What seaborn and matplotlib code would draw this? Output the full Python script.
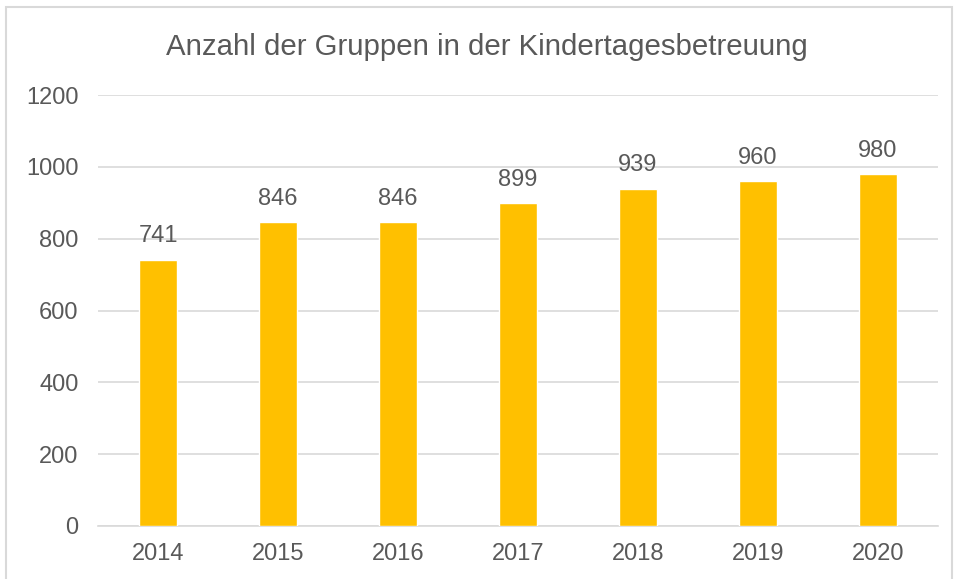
import matplotlib
matplotlib.use("Agg")
import matplotlib.pyplot as plt
import seaborn as sns
import pandas as pd
from matplotlib.patches import Rectangle

years = ["2014", "2015", "2016", "2017", "2018", "2019", "2020"]
values = [741, 846, 846, 899, 939, 960, 980]
title = "Anzahl der Gruppen in der Kindertagesbetreuung"
yticks = [0, 200, 400, 600, 800, 1000, 1200]

sns.set_theme(style="white")
plt.rcParams['font.family'] = ['Liberation Sans', 'DejaVu Sans']
txt = "#595959"

df = pd.DataFrame({"year": years, "value": values})
fig = plt.figure(figsize=(9.55, 5.79), dpi=100)
ax = fig.add_axes([98/955, 1-526/579, (938-98)/955, (526-95)/579])
sns.barplot(data=df, x="year", y="value", color="#FFC000", width=0.31,
            saturation=1, ax=ax, zorder=3)
ax.set_ylim(0, 1200)
ax.set_xlim(-0.5, 6.5)
ax.set_yticks(yticks)
ax.set_yticklabels([str(t) for t in yticks])
ax.yaxis.grid(True, color="#D9D9D9", linewidth=1.2, zorder=0)
ax.set_axisbelow(True)
for s in ["top", "right", "left"]:
    ax.spines[s].set_visible(False)
ax.spines["bottom"].set_color("#D9D9D9")
ax.spines["bottom"].set_linewidth(1.2)
ax.tick_params(axis="both", length=0, labelsize=17, colors=txt)
ax.tick_params(axis="y", pad=14)
ax.tick_params(axis="x", pad=12)
ax.set_xlabel("")
ax.set_ylabel("")
for c in ax.containers:
    ax.bar_label(c, labels=[str(v) for v in values], padding=9, fontsize=17, color=txt)
fig.text(487/955, 1-47/579, title, ha="center", va="center", fontsize=21.2, color=txt)
fig.patches.append(Rectangle((6/955, -0.05), 946/955, 1.05-7/579, transform=fig.transFigure,
                             fill=False, edgecolor="#D9D9D9", linewidth=1.5))
fig.savefig("out.png", dpi=100)
